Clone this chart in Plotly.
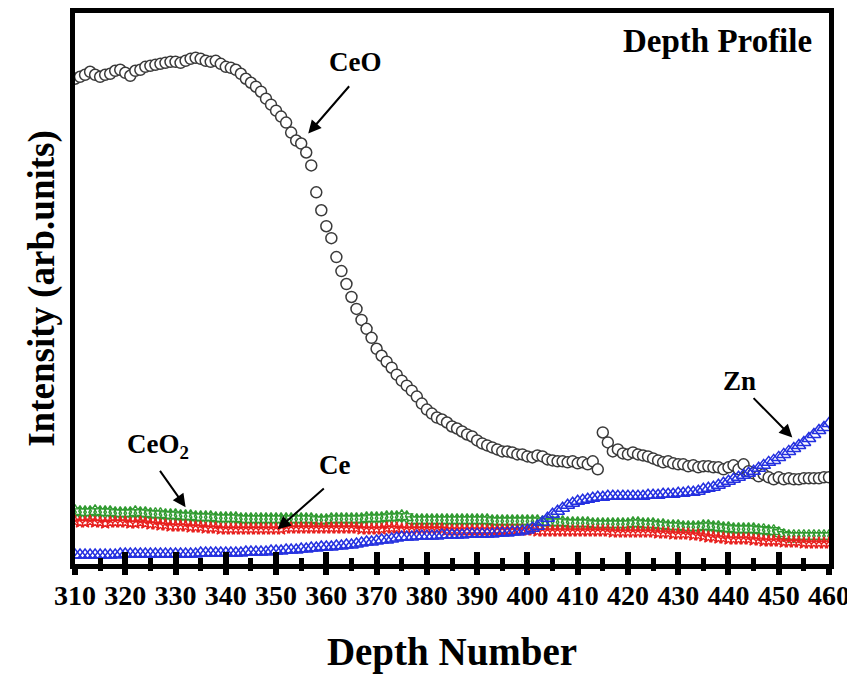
import plotly.graph_objects as go

depth = list(range(310, 461))

ceo = [487, 489, 491, 494, 491, 489, 491, 492, 495, 496,
       493, 490, 495, 496, 499, 500, 501, 502, 503, 504,
       504, 503, 505, 507, 508, 507, 505, 504, 505, 502,
       499, 498, 496, 492, 487, 483, 479, 474, 467, 461,
       455, 449, 443, 433, 425, 422, 413, 400, 373, 355,
       339, 327, 308, 294, 281, 268, 256, 245, 236, 227,
       216, 209, 203, 197, 190, 184, 179, 174, 168, 161,
       155, 151, 147, 145, 142, 138, 136, 133, 130, 128,
       124, 121, 119, 117, 115, 113, 113, 112, 110, 110,
       108, 107, 109, 108, 105, 104, 103, 103, 102, 103,
       101, 102, 100, 103, 95, 132, 122, 113, 115, 111,
       110, 112, 110, 109, 108, 106, 104, 102, 103, 101,
       100, 100, 98, 99, 97, 98, 98, 97, 97, 95,
       97, 99, 95, 100, 93, 91, 88, 90, 87, 85,
       87, 85, 86, 85, 85, 86, 86, 86, 86, 87,
       87]

ceo2 = [53, 52, 52, 52, 53, 52, 52, 52, 51, 51,
        51, 51, 52, 51, 51, 50, 50, 50, 49, 49,
        49, 48, 48, 48, 47, 47, 47, 47, 46, 46,
        46, 46, 46, 45, 45, 45, 45, 45, 45, 45,
        45, 45, 45, 45, 45, 45, 45, 45, 44, 44,
        44, 45, 45, 45, 45, 45, 45, 45, 46, 46,
        46, 46, 47, 47, 47, 48, 47, 44, 44, 44,
        44, 44, 44, 44, 44, 44, 44, 44, 44, 44,
        44, 44, 44, 43, 43, 43, 43, 43, 43, 43,
        43, 43, 43, 42, 42, 42, 42, 42, 41, 41,
        41, 41, 41, 40, 40, 40, 40, 40, 40, 40,
        40, 41, 41, 40, 40, 40, 39, 39, 38, 38,
        38, 37, 37, 37, 37, 38, 38, 37, 37, 36,
        36, 35, 35, 35, 35, 35, 34, 34, 33, 33,
        31, 29, 28, 28, 28, 28, 28, 28, 28, 28,
        28]

ce = [43, 42, 42, 43, 42, 42, 41, 42, 42, 42,
      42, 41, 41, 42, 41, 40, 40, 39, 39, 38,
      38, 38, 38, 37, 37, 37, 36, 36, 36, 35,
      35, 35, 35, 35, 35, 35, 35, 35, 35, 35,
      35, 35, 36, 36, 36, 36, 36, 36, 36, 36,
      36, 36, 36, 36, 36, 36, 36, 35, 35, 35,
      35, 35, 36, 36, 36, 35, 35, 35, 35, 35,
      35, 35, 35, 35, 34, 34, 34, 34, 34, 34,
      34, 34, 34, 34, 34, 34, 34, 34, 34, 34,
      34, 34, 33, 33, 33, 33, 33, 33, 33, 33,
      33, 33, 33, 33, 33, 33, 33, 32, 32, 32,
      32, 32, 32, 32, 32, 32, 31, 31, 31, 30,
      30, 30, 30, 29, 29, 28, 27, 27, 26, 26,
      25, 25, 25, 25, 25, 24, 24, 23, 23, 23,
      23, 22, 22, 22, 22, 21, 21, 21, 21, 21,
      21]

zn = [9, 9, 9, 9, 9, 9, 9, 9, 9, 10,
      10, 10, 10, 10, 10, 10, 10, 10, 10, 10,
      10, 10, 10, 10, 10, 11, 11, 11, 11, 11,
      11, 11, 11, 11, 12, 12, 12, 12, 12, 13,
      13, 13, 14, 14, 14, 15, 15, 16, 16, 17,
      17, 17, 18, 18, 19, 19, 20, 21, 22, 22,
      23, 24, 24, 25, 26, 27, 27, 27, 28, 28,
      28, 28, 28, 29, 29, 29, 29, 29, 30, 30,
      30, 30, 30, 30, 31, 31, 31, 32, 32, 33,
      34, 36, 38, 42, 46, 50, 53, 56, 59, 61,
      63, 64, 65, 66, 67, 67, 68, 68, 68, 68,
      68, 68, 68, 68, 69, 69, 69, 70, 70, 70,
      71, 71, 72, 72, 73, 75, 76, 77, 79, 81,
      83, 85, 87, 89, 91, 93, 96, 99, 102, 104,
      107, 110, 113, 116, 119, 122, 126, 130, 134, 137,
      141]

x_ticks = list(range(310, 461, 10))

FONT = "Liberation Serif"

fig = go.Figure()

fig.add_trace(go.Scatter(
    x=depth, y=ceo, mode="markers", name="CeO",
    marker=dict(symbol="circle", size=11, color="white",
                line=dict(color="#3a3a3a", width=1.5))))
fig.add_trace(go.Scatter(
    x=depth, y=ceo2, mode="markers", name="CeO2",
    marker=dict(symbol="hexagram-open", size=10, color="#2f9a2f",
                line=dict(width=1.4))))
fig.add_trace(go.Scatter(
    x=depth, y=ce, mode="markers", name="Ce",
    marker=dict(symbol="star-open", size=9, color="#e8211f",
                line=dict(width=1.4))))
fig.add_trace(go.Scatter(
    x=depth, y=zn, mode="markers", name="Zn",
    marker=dict(symbol="triangle-up-open", size=12, color="#2430e0",
                line=dict(width=1.5))))
# helper trace so the overlaid axis (outside ticks) is drawn
fig.add_trace(go.Scatter(x=[None], y=[None], xaxis="x2", showlegend=False,
                         hoverinfo="skip"))

ann_font = dict(family=FONT, size=27, color="black", weight="bold")
annotations = [
    dict(x=457.0, y=525, text="Depth Profile", xanchor="right", yanchor="middle",
         showarrow=False, font=dict(family=FONT, size=33, color="black", weight="bold")),
    dict(x=365.75, y=504, text="CeO", showarrow=False, font=ann_font),
    dict(x=442.1, y=184, text="Zn", showarrow=False, font=ann_font),
    dict(x=326.5, y=118, text="CeO<sub>2</sub>", showarrow=False, font=ann_font),
    dict(x=361.6, y=99, text="Ce", showarrow=False, font=ann_font),
]
arrows = [
    (356.4, 432, 364.8, 481),
    (452.7, 127, 444.7, 168),
    (332.0, 57, 326.7, 95),
    (350.3, 35, 359.8, 77),
]
for hx, hy, tx, ty in arrows:
    annotations.append(dict(
        x=hx, y=hy, ax=tx, ay=ty, xref="x", yref="y", axref="x", ayref="y",
        text="", showarrow=True, arrowhead=2, arrowsize=1.3, arrowwidth=2,
        arrowcolor="black"))

# page body adds an 8px offset, so the figure is sized to fit the window
fig.update_layout(
    width=847, height=666,
    margin=dict(l=67, r=26, t=5, b=110),
    paper_bgcolor="white", plot_bgcolor="white",
    showlegend=False,
    annotations=annotations,
    xaxis=dict(
        range=[310, 460], tickmode="array", tickvals=x_ticks,
        ticktext=[str(v) for v in x_ticks], automargin=False,
        ticklabeloverflow="allow", ticklabelstandoff=2,
        ticks="inside", ticklen=12, tickwidth=6, tickcolor="black",
        minor=dict(dtick=5, tick0=310, ticks="inside", ticklen=6,
                   tickwidth=5, tickcolor="black"),
        showline=True, linewidth=5, linecolor="black", mirror=True,
        showgrid=False, zeroline=False,
        tickfont=dict(family=FONT, size=28, color="black", weight="bold"),
        title=dict(text="Depth Number", standoff=34,
                   font=dict(family=FONT, size=39, color="black", weight="bold")),
    ),
    xaxis2=dict(
        range=[310, 460], overlaying="x", side="bottom", anchor="y",
        tickmode="array", tickvals=x_ticks, showticklabels=False,
        ticks="outside", ticklen=10, tickwidth=6, tickcolor="black",
        minor=dict(dtick=5, tick0=310, ticks="outside", ticklen=6,
                   tickwidth=5, tickcolor="black"),
        showline=False, showgrid=False, zeroline=False, automargin=False,
    ),
    yaxis=dict(
        range=[0, 553], showticklabels=False, ticks="", automargin=False,
        showline=True, linewidth=5, linecolor="black", mirror=True,
        showgrid=False, zeroline=False,
        title=dict(text="Intensity (arb.units)", standoff=6,
                   font=dict(family=FONT, size=37, color="black", weight="bold")),
    ),
)

fig.write_html("out.html")
